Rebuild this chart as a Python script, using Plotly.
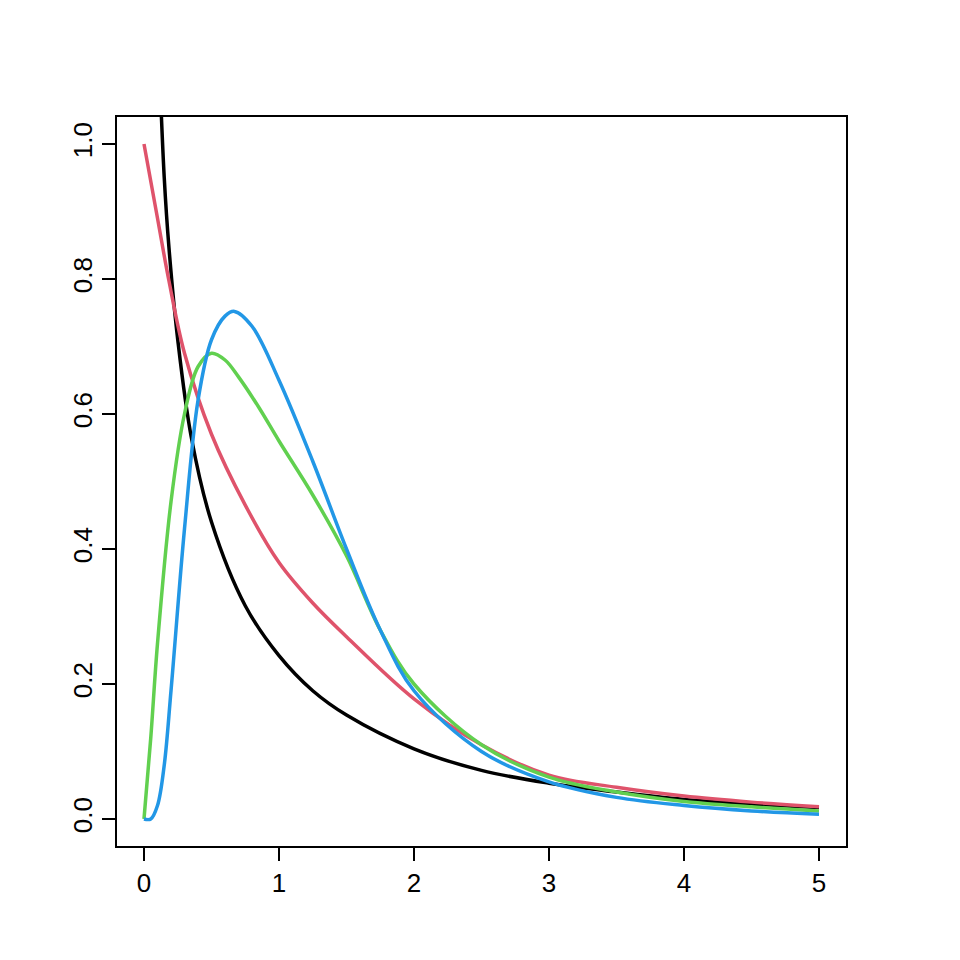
import plotly.graph_objects as go

# values
black_x = [0.111, 0.15, 0.185, 0.25, 0.35, 0.5, 0.75, 1.0, 1.25, 1.5, 2.0, 2.5, 3.0, 3.5, 4.0, 4.5, 5.0]
black_y = [1.13, 0.95, 0.846, 0.71, 0.566, 0.44, 0.316, 0.242, 0.19, 0.154, 0.104, 0.072, 0.053, 0.04, 0.029, 0.022, 0.017]

red_x = [0.0, 0.1, 0.185, 0.3, 0.5, 0.75, 1.0, 1.25, 1.5, 2.0, 2.5, 3.0, 3.5, 4.0, 4.5, 5.0]
red_y = [1.0, 0.89, 0.797, 0.69, 0.57, 0.465, 0.38, 0.32, 0.27, 0.178, 0.11, 0.065, 0.047, 0.034, 0.025, 0.018]

green_x = [0.0, 0.05, 0.1, 0.2, 0.3, 0.4, 0.5, 0.6, 0.7, 0.85, 1.0, 1.25, 1.5, 1.75, 2.0, 2.5, 3.0, 3.5, 4.0, 4.5, 5.0]
green_y = [0.0, 0.12, 0.26, 0.47, 0.6, 0.67, 0.69, 0.68, 0.655, 0.61, 0.56, 0.48, 0.39, 0.28, 0.2, 0.11, 0.062, 0.04, 0.026, 0.018, 0.012]

blue_x = [0.0, 0.05, 0.1, 0.15, 0.2, 0.3, 0.4, 0.5, 0.6, 0.67, 0.8, 1.0, 1.25, 1.5, 1.75, 2.0, 2.5, 3.0, 3.5, 4.0, 4.5, 5.0]
blue_y = [0.0, 0.0, 0.02, 0.08, 0.19, 0.43, 0.62, 0.71, 0.745, 0.752, 0.73, 0.65, 0.53, 0.4, 0.28, 0.19, 0.1, 0.055, 0.032, 0.02, 0.012, 0.007]

fig = go.Figure()
for xs, ys, col in [(black_x, black_y, "black"), (red_x, red_y, "#DF536B"),
                    (green_x, green_y, "#61D04F"), (blue_x, blue_y, "#2297E6")]:
    fig.add_trace(go.Scatter(x=xs, y=ys, mode="lines", line=dict(color=col, width=3.5, shape="spline"),
                             showlegend=False, cliponaxis=True))

axis_common = dict(showgrid=False, zeroline=False, showline=True, linecolor="black", linewidth=1.5,
                   mirror=True, ticks="outside", ticklen=13, tickwidth=1.5, tickcolor="black",
                   tickfont=dict(family="Liberation Sans, Arial", size=26, color="black"))

fig.update_layout(
    width=960, height=960, plot_bgcolor="white", paper_bgcolor="white",
    margin=dict(l=109, r=122, t=109, b=122),
    xaxis=dict(range=[-0.2, 5.2], tickvals=[0, 1, 2, 3, 4, 5], **axis_common),
    yaxis=dict(range=[-0.04, 1.04], tickvals=[0, 0.2, 0.4, 0.6, 0.8, 1.0], tickformat=".1f",
               tickangle=-90, **axis_common),
)
fig.write_html("out.html")
